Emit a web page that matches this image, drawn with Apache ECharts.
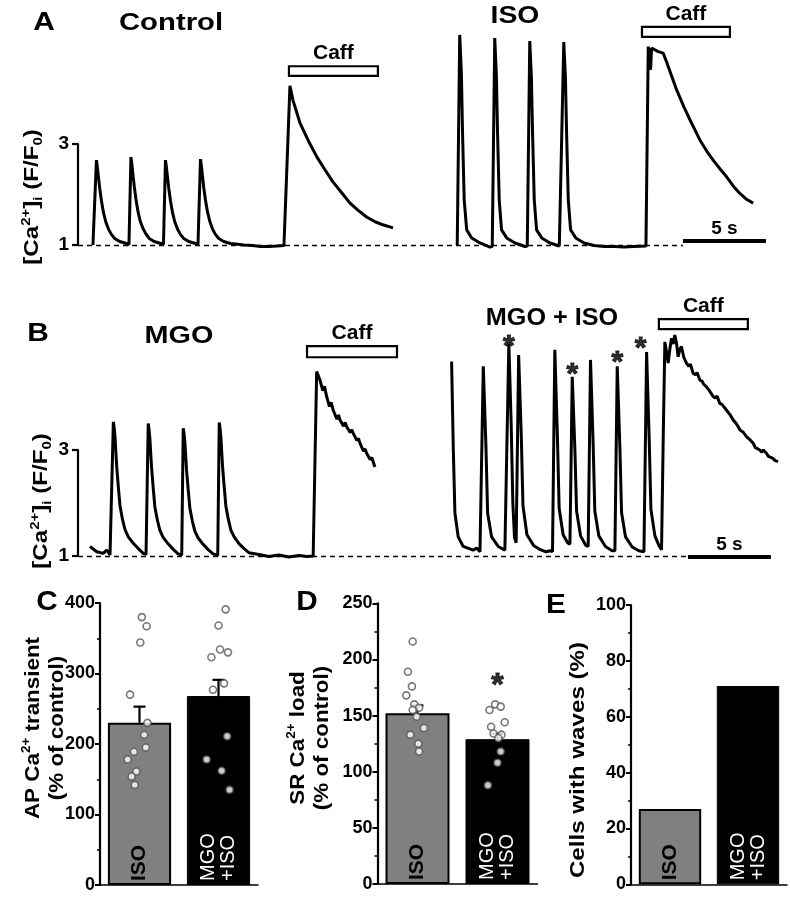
<!DOCTYPE html>
<html><head><meta charset="utf-8">
<script src="https://cdn.jsdelivr.net/npm/echarts/dist/echarts.min.js"></script>
<style>html,body{margin:0;padding:0;background:#fff}#c{width:790px;height:900px}</style>
</head><body><div id="c"></div><script>
// ---------- DATA ----------
// Traces: [time (s), F/F0]
const controlTrace = [[0.90,1.00],[1.02,1.00],
[1.11,2.68],[1.16,2.56],[1.23,2.35],[1.31,2.12],[1.41,1.88],[1.53,1.65],[1.67,1.46],[1.83,1.32],[2.01,1.21],[2.21,1.13],[2.51,1.07],[2.91,1.03],[3.07,1.01],
[3.10,1.00],[3.19,2.74],[3.24,2.62],[3.31,2.40],[3.39,2.16],[3.49,1.91],[3.61,1.67],[3.75,1.47],[3.91,1.33],[4.09,1.22],[4.29,1.13],[4.59,1.07],[4.99,1.03],[5.15,1.01],
[5.18,1.00],[5.27,2.68],[5.32,2.56],[5.39,2.35],[5.47,2.12],[5.57,1.88],[5.69,1.65],[5.83,1.46],[5.99,1.32],[6.17,1.21],[6.37,1.13],[6.67,1.07],[7.07,1.03],[7.23,1.01],
[7.29,1.00],[7.38,2.70],[7.43,2.58],[7.50,2.37],[7.58,2.13],[7.68,1.89],[7.80,1.66],[7.94,1.47],[8.10,1.32],[8.28,1.21],[8.48,1.13],[8.78,1.07],[9.18,1.03],[9.5,1.02],
[10.0,1.00],[10.5,0.99],[11.0,0.97],[11.5,0.97],[12.0,0.98],[12.41,0.99],
[12.77,4.15],[12.95,3.87],[13.37,3.42],[13.9,3.05],[14.40,2.74],[14.9,2.48],[15.36,2.25],[15.9,2.03],[16.39,1.83],[16.9,1.68],[17.41,1.55],[17.9,1.46],[18.37,1.40],[18.98,1.34]];
const isoTrace = [[22.85,1.0],[23.00,5.16],[23.10,4.4],[23.17,3.22],[23.27,1.89],[23.42,1.30],[23.72,1.14],[24.22,1.04],[24.82,0.96],
[24.96,0.97],[25.11,5.10],[25.21,4.35],[25.28,3.2],[25.38,1.89],[25.52,1.30],[25.83,1.14],[26.33,1.04],[26.93,0.97],
[27.07,0.98],[27.22,5.04],[27.32,4.3],[27.39,3.2],[27.49,1.9],[27.63,1.3],[27.94,1.14],[28.44,1.04],[29.0,0.98],
[29.11,0.98],[29.27,5.02],[29.37,4.3],[29.44,3.2],[29.54,1.9],[29.68,1.3],[29.99,1.14],[30.49,1.04],[31.1,0.99],[31.7,0.97],[32.3,0.97],[32.9,0.96],[33.5,0.97],[34.22,0.98],
[34.36,4.93],[34.50,4.47],[34.56,4.90],[34.96,4.83],[35.26,4.80],[35.46,4.63],[36.07,4.07],[36.5,3.74],[36.87,3.48],[37.47,3.08],[37.9,2.85],[38.27,2.68],[38.7,2.50],[39.08,2.35],[39.5,2.16],[39.88,2.02],[40.3,1.90],[40.68,1.83]];
const mgoTrace = [[0.72,1.18],[1.13,1.08],[1.52,1.05],[1.73,1.11],[1.93,1.02],
[2.13,3.53],[2.18,3.42],[2.23,3.25],[2.33,2.70],[2.43,2.30],[2.53,1.95],[2.68,1.69],[2.83,1.50],[3.03,1.36],[3.33,1.24],[3.63,1.14],[3.93,1.05],
[4.10,1.03],[4.23,3.50],[4.28,3.39],[4.33,3.22],[4.43,2.68],[4.53,2.29],[4.63,1.93],[4.78,1.68],[4.93,1.49],[5.13,1.35],[5.43,1.23],[5.73,1.13],[6.03,1.04],
[6.25,1.02],[6.34,3.41],[6.39,3.31],[6.44,3.15],[6.54,2.62],[6.64,2.25],[6.74,1.90],[6.89,1.66],[7.04,1.47],[7.24,1.34],[7.54,1.22],[7.84,1.12],[8.14,1.04],
[8.42,1.01],[8.51,3.52],[8.56,3.41],[8.61,3.24],[8.71,2.69],[8.81,2.30],[8.91,1.94],[9.06,1.69],[9.21,1.49],[9.41,1.36],[9.71,1.23],[10.01,1.14],[10.31,1.06],
[10.9,1.03],[11.5,0.99],[12.1,1.02],[12.7,0.98],[13.3,1.01],[13.8,0.99],[14.17,1.0],
[14.38,4.48],[14.58,4.32],[14.75,4.12],[14.85,4.2],[14.98,4.01],[15.15,3.82],[15.25,3.9],[15.38,3.75],[15.6,3.58],[15.7,3.66],[15.78,3.57],[16.0,3.45],[16.1,3.52],[16.19,3.44],[16.4,3.33],[16.5,3.38],[16.58,3.32],[16.8,3.18],[16.9,3.22],[16.99,3.13],[17.2,2.98],[17.3,3.02],[17.39,2.94],[17.6,2.82],[17.7,2.86],[17.89,2.68]];
const mgoIsoTrace = [[22.51,4.67],[22.61,3.06],[22.71,1.81],[22.91,1.36],[23.21,1.18],[23.81,1.11],[24.02,1.15],[24.22,1.08],
[24.28,1.10],[24.42,4.58],[24.58,3.06],[24.68,1.81],[24.92,1.36],[25.32,1.18],[25.72,1.11],
[25.78,1.10],[25.96,5.01],[26.10,3.5],[26.20,2.0],[26.30,1.35],[26.40,1.25],
[26.43,1.25],[26.55,4.79],[26.71,3.25],[26.81,1.95],[27.05,1.40],[27.45,1.20],[27.85,1.12],[28.2,1.08],[28.45,1.10],[28.59,1.08],
[28.73,4.89],[28.89,3.2],[28.99,1.9],[29.23,1.4],[29.5,1.25],[29.64,1.22],
[29.78,4.38],[29.94,3.0],[30.04,1.85],[30.28,1.38],[30.6,1.2],[30.74,1.18],
[30.88,4.70],[31.04,3.1],[31.14,1.85],[31.38,1.38],[31.78,1.18],[32.18,1.1],[32.3,1.12],
[32.35,1.10],[32.49,4.58],[32.65,3.05],[32.75,1.82],[32.99,1.36],[33.39,1.17],[33.79,1.10],[34.1,1.08],
[34.12,1.08],[34.26,4.85],[34.42,3.15],[34.52,1.88],[34.76,1.38],[35.0,1.2],[35.16,1.12],
[35.26,3.2],[35.36,5.04],[35.46,4.85],[35.56,4.64],[35.66,4.9],[35.76,5.11],[35.86,5.0],[35.96,5.17],[36.06,5.02],[36.16,4.76],[36.26,4.9],[36.36,4.95],[36.5,4.75],[36.66,4.64],[36.8,4.58],[36.9,4.62],[37.06,4.45],[37.2,4.42],[37.3,4.46],[37.47,4.32],[37.6,4.3],[37.7,4.24],[37.87,4.19],[38.0,4.14],[38.1,4.17],[38.27,4.01],[38.4,3.98],[38.5,4.02],[38.67,3.88],[38.8,3.86],[38.9,3.83],[39.08,3.75],[39.2,3.7],[39.3,3.66],[39.47,3.57],[39.6,3.52],[39.7,3.48],[39.88,3.38],[40.0,3.35],[40.1,3.33],[40.28,3.25],[40.4,3.22],[40.5,3.19],[40.68,3.13],[40.8,3.05],[40.9,3.08],[41.08,3.0],[41.2,2.96],[41.3,3.0],[41.48,2.94],[41.6,2.88],[41.7,2.9],[41.88,2.84],[42.0,2.8],[42.18,2.78]];
// caffeine application windows (s)
const caffControl = [12.71, 18.07];
const caffIso = [33.98, 39.28];
const caffMgo = [13.80, 19.22];
const caffMgoIso = [35.0, 40.36];
const scaleBarSec = 5;
const traceTicks = [1, 3];
// asterisks (spontaneous waves) in MGO+ISO: [time, F/F0 marker level]
const waveMarks = [[25.96,5.08],[29.78,4.56],[32.49,4.77],[33.9,5.04]];

// Bar panels
const barCats = ['ISO', 'MGO\n+ISO'];
const apMean = [230, 268];
const apErrTop = [253, 291];
const apIsoPts = [380, 367, 344, 270, 230, 213, 195, 189, 178, 161, 154, 142];
const apIsoJit = [0.03, 0.09, 0.01, -0.12, 0.10, 0.06, 0.08, -0.07, -0.15, -0.04, -0.10, -0.06];
const apMgoPts = [391, 368, 334, 330, 323, 286, 277, 211, 178, 162, 135];
const apMgoJit = [0.09, 0.0, 0.02, 0.12, -0.09, 0.07, -0.07, 0.11, -0.15, 0.04, 0.14];
const srMean = [152, 129];
const srErrTop = [159, 134];
const srIsoPts = [216, 189, 176, 168, 160, 157, 155, 149, 139, 133, 125, 118];
const srIsoJit = [-0.06, -0.12, -0.07, -0.14, -0.04, 0.02, -0.06, -0.01, 0.08, -0.09, 0.01, 0.02];
const srMgoPts = [155, 160, 158, 144, 140, 134, 133, 130, 118, 108, 88];
const srMgoJit = [-0.10, -0.03, 0.04, 0.09, -0.08, -0.05, 0.05, 0.01, 0.04, 0.0, -0.12];
const srSigMark = [[1, 183]];
const wavesPct = [27, 71];

// ---------- CHART ----------
const FF = "'Liberation Sans', Arial, Helvetica, sans-serif";
const chart = echarts.init(document.getElementById('c'), null, {renderer: 'canvas'});

function traceSeries(data, xi, yi, extra) {
  return Object.assign({
    type: 'line', xAxisIndex: xi, yAxisIndex: yi, data: data, showSymbol: false, symbol: 'none',
    lineStyle: {color: '#000', width: 3}, silent: true, z: 5, clip: false
  }, extra || {});
}
function caffArea(win, yTop, yBot) {
  return {
    silent: true,
    itemStyle: {color: '#fff', borderColor: '#000', borderWidth: 2.2},
    label: {show: true, position: 'top', distance: 1, formatter: 'Caff', fontSize: 21, fontWeight: 'bold', color: '#000', fontFamily: FF},
    data: [[{coord: [win[0], yTop]}, {coord: [win[1], yBot]}]]
  };
}
function baseLines(t0, yBar) {
  return {
    silent: true, symbol: ['none', 'none'], label: {show: false}, z: 1,
    data: [
      [{coord: [0, 1], lineStyle: {type: [5, 4], width: 1.3, color: '#000'}}, {coord: [t0, 1]}],
      [{coord: [t0, yBar], lineStyle: {type: 'solid', width: 4, color: '#000'},
        label: {show: true, position: 'insideMiddleTop', distance: 3, formatter: scaleBarSec + ' s', fontSize: 19, fontWeight: 'bold', color: '#000', fontFamily: FF}},
       {coord: [t0 + scaleBarSec, yBar]}]
    ]
  };
}
function bracketAxis(gi) {
  return {gridIndex: gi, type: 'value', min: traceTicks[0], max: traceTicks[1], interval: traceTicks[1] - traceTicks[0],
    axisLine: {show: true, onZero: false, lineStyle: {color: '#000', width: 2.2}},
    axisTick: {show: true, length: 6, lineStyle: {color: '#000', width: 2.2}},
    axisLabel: {color: '#000', fontSize: 19, fontWeight: 'bold', margin: 9, fontFamily: FF},
    splitLine: {show: false}};
}
function barY(gi, max, interval) {
  return {gridIndex: gi, type: 'value', min: 0, max: max, interval: interval,
    axisLine: {show: true, onZero: false, lineStyle: {color: '#000', width: 2.2}},
    axisTick: {show: true, length: 5, lineStyle: {color: '#000', width: 2}},
    minorTick: {show: true, splitNumber: 2, length: 3, lineStyle: {color: '#000', width: 1.5}},
    axisLabel: {color: '#000', fontSize: 18, fontWeight: 'bold', margin: 5, fontFamily: FF},
    splitLine: {show: false}};
}
function barX(gi) {
  return {gridIndex: gi, type: 'category', data: barCats,
    axisLine: {show: true, onZero: false, lineStyle: {color: '#000', width: 1.5}},
    axisTick: {show: false}, axisLabel: {show: false}};
}
function barSeries(xi, yi, vals) {
  return {
    type: 'bar', xAxisIndex: xi, yAxisIndex: yi, barWidth: '80%', silent: true, z: 2,
    data: vals.map((v, i) => ({
      value: v,
      itemStyle: i === 0 ? {color: '#808080', borderColor: '#000', borderWidth: 2} : {color: '#000', borderColor: '#000', borderWidth: 1},
      label: i === 0
        ? {show: true, position: 'insideBottom', rotate: 90, align: 'left', verticalAlign: 'middle', distance: 4,
           formatter: '{b}', fontSize: 21, fontWeight: 'bold', color: '#000', fontFamily: FF}
        : {show: true, position: 'insideBottom', rotate: 90, align: 'left', verticalAlign: 'middle', distance: 4,
           formatter: '{b}', fontSize: 20, fontWeight: 'normal', color: '#fff', lineHeight: 20, fontFamily: FF}
    }))
  };
}
function errSeries(xi, yi, mean, top) {
  return {
    type: 'custom', xAxisIndex: xi, yAxisIndex: yi, silent: true, z: 4,
    data: mean.map((m, i) => [i, m, top[i]]),
    renderItem: function (params, api) {
      const a = api.coord([api.value(0), api.value(1)]);
      const b = api.coord([api.value(0), api.value(2)]);
      return {type: 'group', children: [
        {type: 'line', shape: {x1: a[0], y1: a[1], x2: b[0], y2: b[1]}, style: {stroke: '#000', lineWidth: 2.2}},
        {type: 'line', shape: {x1: b[0] - 6, y1: b[1], x2: b[0] + 6, y2: b[1]}, style: {stroke: '#000', lineWidth: 2.2}}
      ]};
    }
  };
}
function ptSeries(xi, yi, cat, pts, jit) {
  return {
    type: 'scatter', xAxisIndex: xi, yAxisIndex: yi, silent: true, z: 6,
    symbol: 'circle', symbolSize: 7,
    itemStyle: {color: '#fff', borderColor: '#555', borderWidth: 1.6},
    data: pts.map((v, i) => [cat + jit[i], v])
  };
}
function txt(x, y, text, size, sx) {
  return {type: 'text', x: x, y: y, scaleX: sx || 1, silent: true,
    style: {text: text, fontSize: size, fontWeight: 'bold', fontFamily: FF, fill: '#000', align: 'center', verticalAlign: 'middle'}};
}
function mkRich(fs) {
  const s = Math.round(fs * 0.6);
  return {
    n: {fontSize: fs, fontWeight: 'bold', fontFamily: FF, lineHeight: fs + 4, verticalAlign: 'middle', color: '#000'},
    sup: {fontSize: s, fontWeight: 'bold', fontFamily: FF, lineHeight: fs + 4, verticalAlign: 'top', color: '#000'},
    sub: {fontSize: s, fontWeight: 'bold', fontFamily: FF, lineHeight: fs + 4, verticalAlign: 'bottom', color: '#000'}
  };
}
function rotText(x, y, text, fs, sx) {
  return {type: 'text', x: x, y: y, rotation: Math.PI / 2, scaleX: sx || 1, silent: true,
    style: {text: text, rich: mkRich(fs), align: 'center', verticalAlign: 'middle', fill: '#000'}};
}
const caLabel = '{n|[Ca}{sup|2+}{n|]}{sub|i}{n| (F/F}{sub|0}{n|)}';

const option = {
  backgroundColor: '#fff',
  animation: false,
  textStyle: {fontFamily: FF},
  grid: [
    {left: 78, width: 712, top: 12.7, height: 252.5},
    {left: 78, width: 10, top: 144, height: 101},
    {left: 78, width: 712, top: 312.2, height: 265},
    {left: 78, width: 10, top: 450, height: 106},
    {left: 100, width: 158, top: 603, height: 282},
    {left: 377.5, width: 160, top: 603.3, height: 280.7},
    {left: 631, width: 156, top: 605, height: 279.3}
  ],
  xAxis: [
    {gridIndex: 0, type: 'value', min: 0, max: 42.9, show: false},
    {gridIndex: 1, type: 'value', min: 0, max: 1, show: false},
    {gridIndex: 2, type: 'value', min: 0, max: 42.9, show: false},
    {gridIndex: 3, type: 'value', min: 0, max: 1, show: false},
    barX(4),
    {gridIndex: 4, type: 'value', min: -0.5, max: 1.5, show: false},
    barX(5),
    {gridIndex: 5, type: 'value', min: -0.5, max: 1.5, show: false},
    barX(6)
  ],
  yAxis: [
    {gridIndex: 0, type: 'value', min: 0.6, max: 5.6, show: false},
    bracketAxis(1),
    {gridIndex: 2, type: 'value', min: 0.6, max: 5.6, show: false},
    bracketAxis(3),
    barY(4, 400, 100),
    barY(5, 250, 50),
    barY(6, 100, 20)
  ],
  series: [
    traceSeries(controlTrace, 0, 0, {markArea: caffArea(caffControl, 4.54, 4.35), markLine: baseLines(36.45, 1.08)}),
    traceSeries(isoTrace, 0, 0, {markArea: caffArea(caffIso, 5.32, 5.12)}),
    traceSeries(mgoTrace, 2, 2, {markArea: caffArea(caffMgo, 4.96, 4.75), markLine: baseLines(36.75, 0.98)}),
    traceSeries(mgoIsoTrace, 2, 2, {markArea: caffArea(caffMgoIso, 5.47, 5.28)}),
    {type: 'scatter', xAxisIndex: 2, yAxisIndex: 2, silent: true, symbolSize: 1, itemStyle: {color: 'rgba(0,0,0,0)'},
     label: {show: true, position: 'inside', formatter: '*', fontSize: 30, fontWeight: 'bold', color: '#000', textBorderColor: '#000', textBorderWidth: 1, offset: [0, 7], fontFamily: FF},
     data: waveMarks},
    barSeries(4, 4, apMean), errSeries(4, 4, apMean, apErrTop),
    ptSeries(5, 4, 0, apIsoPts, apIsoJit), ptSeries(5, 4, 1, apMgoPts, apMgoJit),
    barSeries(6, 5, srMean), errSeries(6, 5, srMean, srErrTop),
    ptSeries(7, 5, 0, srIsoPts, srIsoJit), ptSeries(7, 5, 1, srMgoPts, srMgoJit),
    {type: 'scatter', xAxisIndex: 7, yAxisIndex: 5, silent: true, symbolSize: 1, itemStyle: {color: 'rgba(0,0,0,0)'},
     label: {show: true, position: 'inside', formatter: '*', fontSize: 32, fontWeight: 'bold', color: '#000', textBorderColor: '#000', textBorderWidth: 1, offset: [0, 8], fontFamily: FF},
     data: srSigMark},
    barSeries(8, 6, wavesPct)
  ],
  graphic: [
    txt(44, 23, 'A', 26, 1.15),
    txt(171, 23, 'Control', 24, 1.22),
    txt(515, 16, 'ISO', 24, 1.18),
    txt(38, 334, 'B', 26, 1.15),
    txt(179, 336, 'MGO', 24, 1.2),
    txt(552, 318, 'MGO + ISO', 24, 1.05),
    txt(47, 603, 'C', 27, 1.1),
    txt(307, 603, 'D', 27, 1.1),
    txt(556, 606, 'E', 27, 1.1),
    rotText(32, 197, caLabel, 21, 1.15),
    rotText(41, 501, caLabel, 21, 1.15),
    rotText(45, 728, '{n|AP Ca}{sup|2+}{n| transient}\n{n|(% of control)}', 20, 1.12),
    rotText(310, 738, '{n|SR Ca}{sup|2+}{n| load}\n{n|(% of control)}', 20, 1.12),
    rotText(578, 760, '{n|Cells with waves (%)}', 21, 1.15)
  ]
};
chart.setOption(option);
</script></body></html>
